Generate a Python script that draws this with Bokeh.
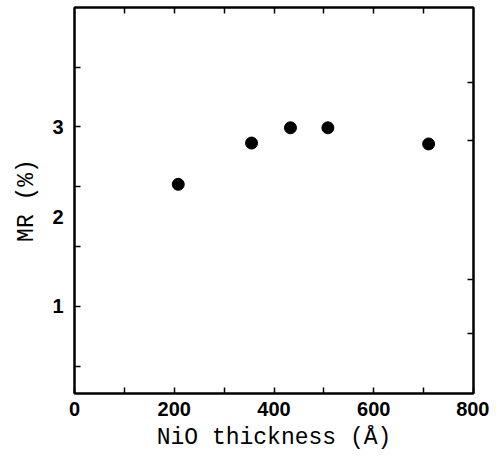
from bokeh.plotting import figure
from bokeh.models import LinearAxis, FixedTicker, Range1d
from bokeh.embed import file_html
from bokeh.resources import INLINE

thickness = [208, 355, 433, 508, 710]
mr = [2.36, 2.82, 2.99, 2.99, 2.81]

x_ticks = [0, 200, 400, 600, 800]
x_minor = [100, 300, 500, 700]
x_top_marks = [100, 200, 300, 400, 500, 600, 700]
y_labels = [1, 2, 3]
y_tick_marks = [1/3, 1, 5/3, 7/3, 3, 11/3]
y_tick_marks_right = [0.7, 1.3, 2.85, 3.5]

p = figure(width=489, height=459, output_backend="svg", toolbar_location=None,
           x_range=Range1d(0, 800), y_range=Range1d(0.03, 4.33),
           min_border_left=74, min_border_right=16, min_border_top=7, min_border_bottom=66)
p.grid.visible = False
p.outline_line_color = "black"
p.outline_line_width = 2
p.background_fill_color = "white"
p.border_fill_color = "white"

mono = "Liberation Mono"
sans = "Liberation Sans"

# bottom axis
xa = p.xaxis[0]
xa.ticker = FixedTicker(ticks=x_ticks, minor_ticks=x_minor)
xa.axis_label = "NiO thickness (Å)"
xa.axis_label_text_font = mono
xa.axis_label_text_font_size = "23px"
xa.axis_label_text_font_style = "normal"
xa.axis_label_text_color = "black"
xa.axis_label_standoff = 6
xa.major_label_text_font = sans
xa.major_label_text_font_size = "20px"
xa.major_label_text_font_style = "bold"
xa.major_label_text_color = "black"
xa.major_label_standoff = 8
xa.major_tick_in = 6
xa.major_tick_out = 0
xa.minor_tick_in = 6
xa.minor_tick_out = 0
xa.axis_line_width = 2
xa.major_tick_line_width = 1.5
xa.minor_tick_line_width = 1.5

# left axis
ya = p.yaxis[0]
ya.ticker = FixedTicker(ticks=y_labels, minor_ticks=y_tick_marks)
ya.axis_label = "MR (%)"
ya.axis_label_text_font = mono
ya.axis_label_text_font_size = "23px"
ya.axis_label_text_font_style = "normal"
ya.axis_label_text_color = "black"
ya.axis_label_standoff = 9
ya.major_label_text_font = sans
ya.major_label_text_font_size = "20px"
ya.major_label_text_font_style = "bold"
ya.major_label_text_color = "black"
ya.major_label_standoff = 11
ya.major_tick_in = 0
ya.major_tick_out = 0
ya.minor_tick_in = 6
ya.minor_tick_out = 0
ya.axis_line_width = 2
ya.minor_tick_line_width = 1.5

# top axis (tick marks only)
top = LinearAxis(ticker=FixedTicker(ticks=[], minor_ticks=x_top_marks),
                 major_tick_in=0, major_tick_out=0,
                 minor_tick_in=6, minor_tick_out=0, axis_line_width=2,
                 minor_tick_line_width=1.5)
p.add_layout(top, "above")

# right axis (tick marks only)
right = LinearAxis(ticker=FixedTicker(ticks=[], minor_ticks=y_tick_marks_right),
                   major_tick_in=0, major_tick_out=0,
                   minor_tick_in=6, minor_tick_out=0, axis_line_width=2,
                   minor_tick_line_width=1.5)
p.add_layout(right, "right")

p.scatter(thickness, mr, size=12, color="black")

open("out.html", "w").write(file_html(p, INLINE))
